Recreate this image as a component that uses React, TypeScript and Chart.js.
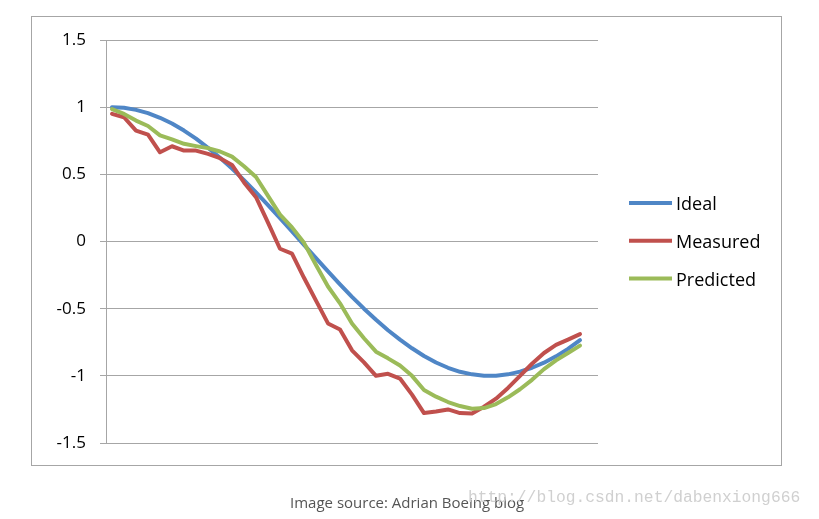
import React, { useEffect, useRef } from "react";
import { Chart, registerables } from "chart.js";

Chart.register(...registerables);

const seriesNames = ["Ideal", "Measured", "Predicted"];
const seriesColors = ["#4F86C6", "#C0504D", "#9BBB59"];

const ideal = [1.0, 0.995, 0.98, 0.956, 0.921, 0.878, 0.826, 0.766, 0.698, 0.623, 0.543, 0.457, 0.366, 0.271, 0.174, 0.075, -0.025, -0.124, -0.222, -0.319, -0.412, -0.5, -0.583, -0.661, -0.731, -0.795, -0.852, -0.901, -0.94, -0.97, -0.989, -0.999, -0.999, -0.989, -0.969, -0.94, -0.902, -0.855, -0.799, -0.735];
const measured = [0.95, 0.925, 0.826, 0.796, 0.664, 0.709, 0.677, 0.677, 0.652, 0.62, 0.57, 0.44, 0.33, 0.14, -0.054, -0.09, -0.27, -0.44, -0.61, -0.655, -0.81, -0.9, -1.0, -0.985, -1.02, -1.14, -1.277, -1.265, -1.25, -1.277, -1.28, -1.23, -1.17, -1.09, -1.0, -0.91, -0.83, -0.77, -0.73, -0.69];
const predicted = [0.985, 0.95, 0.9, 0.86, 0.79, 0.76, 0.727, 0.71, 0.695, 0.67, 0.632, 0.56, 0.48, 0.34, 0.2, 0.105, -0.01, -0.175, -0.335, -0.46, -0.61, -0.72, -0.82, -0.87, -0.923, -1.0, -1.105, -1.155, -1.195, -1.225, -1.245, -1.24, -1.21, -1.16, -1.1, -1.03, -0.95, -0.885, -0.83, -0.775];

const yTickValues = [-1.5, -1, -0.5, 0, 0.5, 1, 1.5];
const yTickLabels = ["-1.5", "-1", "-0.5", "0", "0.5", "1", "1.5"];

const caption = "Image source: Adrian Boeing blog";
const watermark = "http://blog.csdn.net/dabenxiong666";

const FONT = "'Open Sans', 'Noto Sans', sans-serif";

const frameAndLegend = {
  id: "frameAndLegend",
  beforeDraw(chart: any) {
    const ctx = chart.ctx;
    ctx.save();
    ctx.strokeStyle = "#A6A6A6";
    ctx.lineWidth = 1;
    ctx.strokeRect(31.5, 16.5, 750, 449);
    ctx.restore();
  },
  afterDraw(chart: any) {
    const ctx = chart.ctx;
    const area = chart.chartArea;
    ctx.save();
    chart.data.datasets.forEach((ds: any, i: number) => {
      const y = 203 + i * 37.8;
      const x0 = area.right + 31;
      ctx.strokeStyle = ds.borderColor;
      ctx.lineWidth = 4;
      ctx.lineCap = "butt";
      ctx.beginPath();
      ctx.moveTo(x0, y);
      ctx.lineTo(x0 + 43, y);
      ctx.stroke();
      ctx.fillStyle = "#000";
      ctx.font = `18px ${FONT}`;
      ctx.textBaseline = "middle";
      ctx.textAlign = "left";
      ctx.fillText(ds.label, x0 + 47, y + 2);
    });
    ctx.restore();
  },
};

export default function App() {
  const ref = useRef<HTMLCanvasElement | null>(null);
  useEffect(() => {
    if (!ref.current) return;
    const series = [ideal, measured, predicted];
    const chart = new Chart(ref.current, {
      type: "line",
      data: {
        datasets: series.map((vals, s) => ({
          label: seriesNames[s],
          data: vals.map((v, i) => ({ x: i, y: v })),
          borderColor: seriesColors[s],
          backgroundColor: seriesColors[s],
          borderWidth: 4,
          pointRadius: 0,
          tension: 0,
          borderJoinStyle: "round",
          borderCapStyle: "round",
          order: 3 - s,
        })) as any,
      },
      options: {
        animation: false,
        responsive: false,
        events: [],
        layout: { padding: { left: 0, top: 40, right: 221, bottom: 76 } },
        plugins: { legend: { display: false }, tooltip: { enabled: false } },
        scales: {
          x: { type: "linear", min: -0.5, max: 40.5, display: false },
          y: {
            type: "linear",
            min: -1.5,
            max: 1.5,
            afterFit: (scale: any) => {
              scale.width = 106;
            },
            afterBuildTicks: (scale: any) => {
              scale.ticks = yTickValues.map((v) => ({ value: v }));
            },
            ticks: {
              padding: 14,
              color: "#000",
              font: { family: FONT, size: 17 },
              callback: (value: any) => {
                const idx = yTickValues.indexOf(Number(value));
                return idx >= 0 ? yTickLabels[idx] : "";
              },
            },
            grid: { color: "#A6A6A6", lineWidth: 1, tickLength: 6, drawTicks: true },
            border: { display: true, color: "#A6A6A6", width: 1 },
          },
        },
      },
      plugins: [frameAndLegend],
    });
    return () => chart.destroy();
  }, []);

  return (
    <div style={{ position: "absolute", left: 0, top: 0, width: 819, height: 519, background: "#fff" }}>
      <canvas ref={ref} width={819} height={519} style={{ position: "absolute", left: 0, top: 0 }} />
      <span
        style={{
          position: "absolute",
          left: 290,
          top: 492,
          fontFamily: FONT,
          fontSize: 15,
          color: "#555",
          whiteSpace: "nowrap",
          lineHeight: "20px",
        }}
      >
        {caption}
      </span>
      <span
        style={{
          position: "absolute",
          left: 468,
          top: 488,
          fontFamily: "'Liberation Mono', monospace",
          fontSize: 16.3,
          color: "#D0D0D0",
          whiteSpace: "nowrap",
          lineHeight: "20px",
        }}
      >
        {watermark}
      </span>
    </div>
  );
}
